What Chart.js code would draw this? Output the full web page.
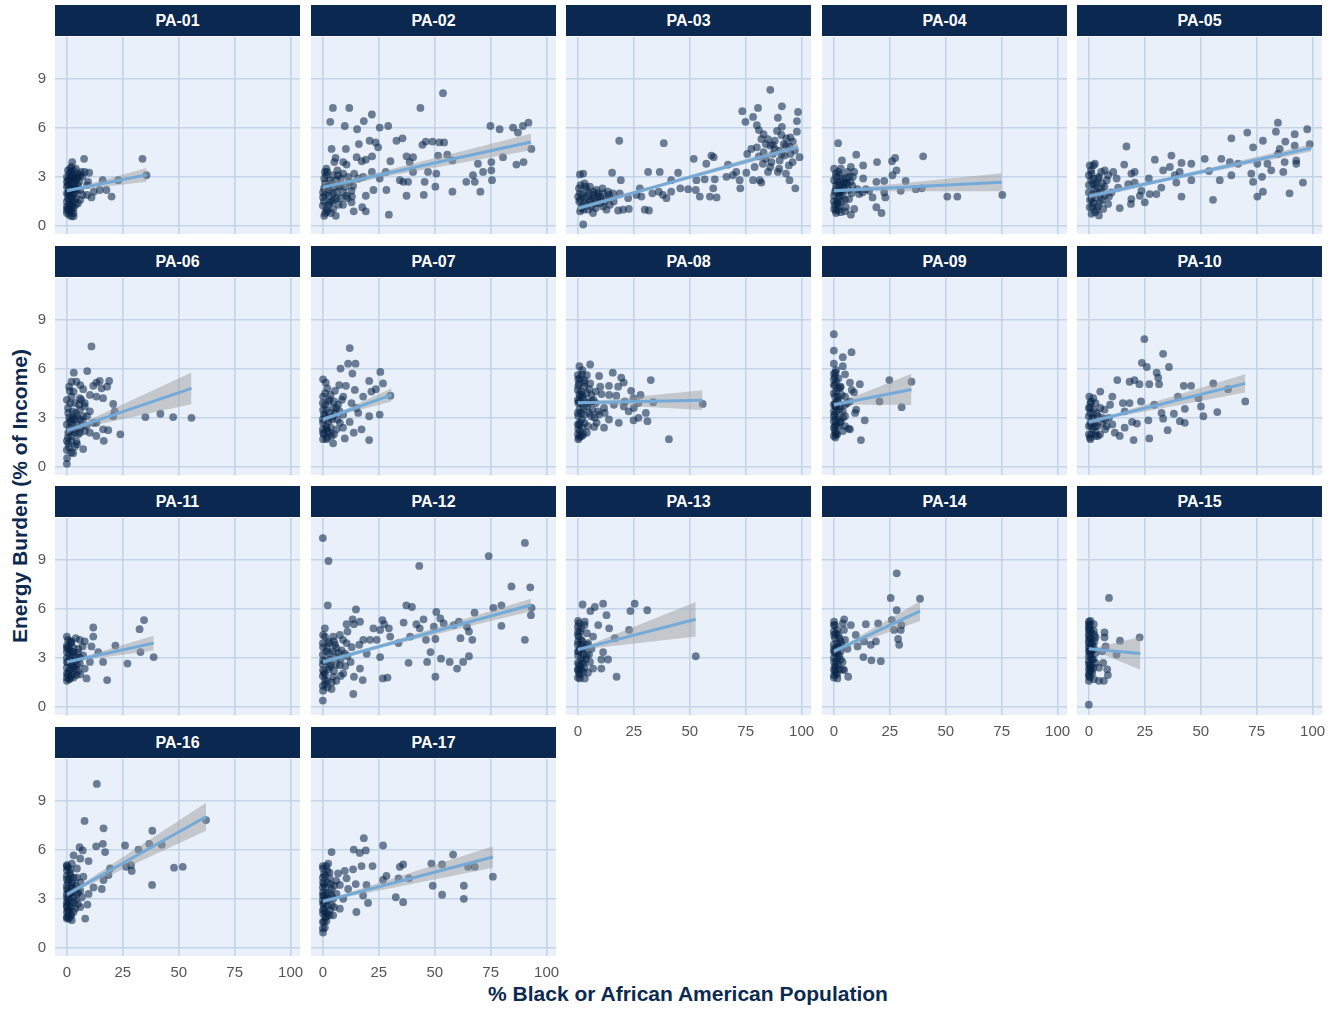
<!DOCTYPE html>
<html>
<head>
<meta charset="utf-8">
<script src="https://cdn.jsdelivr.net/npm/chart.js@4.4.0/dist/chart.umd.min.js"></script>
<style>
  body { margin: 0; background: #fff; font-family: "Liberation Sans", Arial, sans-serif; }
  #wrap { position: relative; width: 1340px; height: 1010px; overflow: hidden; }
  .strip { position: absolute; height: 31px; background: #0a2850; color: #fff; font-weight: bold;
           font-size: 16px; line-height: 31px; text-align: center; }
  canvas { position: absolute; }
  #xTitle { position: absolute; left: 388px; top: 982px; width: 600px; text-align: center;
            font-size: 21px; font-weight: bold; color: #0c2a4f; }
  #yTitle { position: absolute; left: -180px; top: 484px; width: 400px; text-align: center;
            font-size: 21px; font-weight: bold; color: #0c2a4f; transform: rotate(-90deg); }
</style>
</head>
<body>
<div id="wrap">
  <div id="xTitle">% Black or African American Population</div>
  <div id="yTitle">Energy Burden (% of Income)</div>
</div>
<script>
// ---------- data ----------
const panels = ["PA-01","PA-02","PA-03","PA-04","PA-05","PA-06","PA-07","PA-08","PA-09",
                "PA-10","PA-11","PA-12","PA-13","PA-14","PA-15","PA-16","PA-17"];
const xTicks = [0, 25, 50, 75, 100];
const yTicks = [0, 3, 6, 9];
const xRange = [-5.3, 104.2];
const yRange = [-0.48, 11.52];

const pa01 = [[0,0.8],[1,0.7],[2,0.9],[3,0.8],[0.5,1.1],[1.5,1.3],[2.5,1.2],[0,1.5],[1,1.6],[2,1.8],[3,1.5],[4,1.7],[0.5,2.0],[1.5,2.1],[2.5,2.2],[3.5,2.0],[0,2.4],[1,2.5],[2,2.6],[3,2.4],[4,2.3],[5,2.5],[0.5,2.8],[1.5,2.9],[2.5,3.0],[3.5,3.1],[4.5,2.9],[1,3.2],[2,3.3],[3,3.4],[5,3.2],[6,3.1],[7,3.0],[8,3.3],[6,2.2],[7,1.9],[0,1.0],[1,1.9],[2,3.6],[4,3.5],[3,0.6],[5,1.4],[6,1.6],[9,1.9],[9,2.5],[2.4,3.9],[7.7,4.1],[33.8,4.1],[35.6,3.1],[16,2.8],[23,2.8],[14.7,2.2],[17.7,2.2],[20,1.8],[11,1.75],[10,3.25],[9.5,2.7],[12,2.1],
  [0,1.2],[0.5,1.7],[1,2.2],[1.5,2.7],[2,3.1],[0,3.0],[0.5,3.4],[1,0.9],[1.5,1.0],[2,1.4],[2.5,1.7],[3,2.0],[3.5,2.6],[4,2.8],[4.5,2.2],[5,3.0],[0,2.0],[0.5,2.5],[2,2.3],[3,2.9],[1,2.9],[0,2.7],[1.5,3.5],[3,1.1],[4,1.3],[2,0.6],[1,1.3],[5.5,2.7],[6.5,3.3]];
const pa02 = [[4.5,7.2],[11.8,7.2],[53.7,8.1],[43.6,7.2],[21.9,6.8],[3.3,6.35],[9.8,6.1],[18.3,6.4],[15.3,5.9],[25.4,6.0],[29.2,6.1],[74.9,6.1],[79,5.9],[85,6.0],[89.4,6.1],[91.9,6.3],[87.2,5.7],[93.2,4.7],[86.5,3.75],[89.7,3.9],[80.5,4.2],[69.3,3.8],[75.3,3.9],[75.3,3.4],[71.6,3.3],[67.1,3.1],[67.9,2.7],[64.1,2.7],[70.4,2.1],[75.6,2.8],[57.9,2.1],[50.3,2.4],[50.7,3.2],[47,3.3],[45.5,2.7],[45.1,1.9],[37.4,1.85],[38.1,2.7],[40.3,3.3],[38.8,3.9],[37.4,4.25],[40.3,4.2],[44.5,4.95],[46,5.15],[49,5.15],[52,5.1],[54.2,5.1],[51.5,4.3],[55.6,4.35],[57.9,4.0],[32.9,5.2],[35.6,5.35],[30.2,3.95],[28.1,3.3],[28.4,2.2],[29.5,0.7],[34.4,2.8],[35.9,2.7],[20.9,5.2],[23.6,5.1],[24.7,4.8],[16.1,5.0],[10.3,4.7],[3.9,4.7],[5.7,4.15],[5.1,3.9],[9.1,3.9],[10.6,3.75],[15.1,4.2],[17.4,3.95],[19.2,4.05],[22,4.25],[21.9,3.3],[25.4,2.9],[22.6,2.2],[19.2,1.85],[17.6,1.15],[19.2,0.9],[13.8,0.9],[12.8,1.45],[10.6,1.85],[9.1,2.05],[6.1,2.05],[3.1,1.45],[1.6,1.05],[0.6,0.63],[5.8,0.63],[4.6,1.05],[0.1,2.05],[0.9,3.3],[1.6,3.5],[0.6,2.9],[4.6,3.1],[6.8,3.1],[9.1,3.2],[11.3,3.0],[2.4,2.35],[7.6,2.45],[13.5,2.45],[15.8,2.9],[18,3.0],[0.1,1.75],[0,1.25],[2.8,1.85],[12,2.7],[12.8,2.15],[1,2.6],[3,2.2],[5,1.6],[7,1.3],[2,0.9],[8,1.7],[4,2.6],[6,2.8],
  [0.5,1.5],[1,1.9],[2,2.4],[3,2.8],[1.5,3.1],[2.5,1.3],[4,1.5],[5,2.4],[6,1.7],[7,2.4],[8,2.9],[9,1.3],[10,2.4],[11,1.7],[3.5,0.8],[1,0.8],[2,3.3],[0.5,2.3],[4.5,2.0],[6.5,3.4],[13,1.8],[14,3.2]];
const pa03 = [[86,8.3],[73.5,7.0],[80.5,7.2],[74.9,6.35],[78.3,6.65],[91.2,7.3],[98.4,6.95],[97.9,6.4],[89.4,6.6],[80,6.15],[80.9,5.85],[91.2,6.05],[82,5.3],[85,5.3],[87.2,4.95],[91,5.55],[93.2,5.35],[94.6,4.85],[97.9,5.75],[96.1,5.15],[77.5,4.7],[75.7,4.4],[80.9,4.25],[82.7,3.8],[86.5,3.9],[90.2,4.0],[94.3,3.7],[89.4,3.3],[85,3.3],[81.3,2.8],[78.3,2.8],[82,2.65],[94.6,2.8],[97.2,2.3],[99.1,4.2],[87.2,4.4],[92.3,4.3],[75.3,3.25],[70.8,3.3],[72.3,2.8],[66.4,3.0],[69.3,3.1],[67.1,3.75],[72.6,2.3],[59.7,4.3],[60.7,4.2],[57.4,3.8],[51.8,4.1],[53,2.8],[56.7,2.85],[61.2,2.85],[60.5,2.3],[59,1.8],[62,1.75],[54.5,1.8],[52.7,2.2],[49.3,2.25],[45.8,2.3],[44.8,3.25],[41.7,2.8],[41.7,2.1],[39.6,1.7],[38,1.9],[36.6,3.3],[38.4,5.05],[36.2,2.1],[33.3,2.0],[31.4,3.3],[27.7,2.3],[28.4,1.8],[29.9,1.0],[31.8,0.95],[26.2,1.9],[22.5,1.7],[22.8,1.05],[18.5,5.2],[15.3,3.25],[19.2,2.8],[18.7,2.0],[15.7,2.0],[20.2,1.0],[18,0.95],[14.3,1.3],[11.3,2.0],[8.3,2.2],[6.8,1.9],[6.1,1.6],[3.1,1.4],[2.4,3.2],[0.9,3.15],[1.2,2.5],[3.9,2.2],[9.8,1.6],[11.3,1.2],[12.8,1.0],[4.6,1.0],[2.4,0.1],[0.6,1.5],[0.9,2.0],[5.4,2.4],[9.1,1.8],[13.5,2.1],[6.8,0.8],[0.1,1.8],[2,1.2],[4,1.8],[7,2.1],[10,1.4],[1,0.9],[3,2.6],[8,1.1],[88,4.7],[92,5.0],[84,4.1],[95,4.4],[79,3.6],[83,5.6],[90,3.5],
  [1,1.6],[2,1.9],[3,1.7],[4,1.3],[5,2.0],[6,1.2],[7,1.7],[8,1.4],[9,2.0],[10,1.8],[12,1.5],[13,1.7],[14,1.9],[0.5,2.3],[1.5,1.1],[3.5,2.4],[5.5,1.5],[2.5,1.0],[11,2.3],[16,1.5],[80,4.8],[83,4.5],[86,4.9],[88,5.2],[90,4.6],[93,4.9],[95,5.4],[97,4.6],[84,5.0],[89,5.8],[91,4.4],[96,3.9],[86,3.6],[93,3.2]];
const pa04 = [[1.9,5.05],[10,4.35],[3.6,4.0],[19.3,3.9],[26,3.95],[27.4,4.15],[39.9,4.25],[13.1,3.7],[28,3.4],[26.2,3.1],[32.1,2.75],[22.5,2.75],[19,2.7],[13.1,2.9],[9.1,3.3],[6.8,3.0],[36.6,2.25],[39.3,2.3],[29.9,2.15],[22.5,2.05],[17.3,1.75],[23,1.75],[50.7,1.8],[55.2,1.8],[75.3,1.9],[19,1.15],[21.3,0.8],[9.1,1.05],[7.6,0.7],[3.1,0.85],[0.9,0.95],[5.4,1.15],[1.6,1.45],[6.8,1.65],[11.3,1.95],[14.3,2.25],[15.8,2.15],[0.1,1.85],[0.9,2.25],[2.4,2.55],[3.9,2.9],[6.1,3.3],[0.9,3.2],[0.1,2.8],[2.4,2.05],[4.6,2.35],[8.3,2.45],[10.6,2.25],[12.8,2.05],[0.1,3.5],[3.1,3.5],[7.6,3.6],[5.4,2.65],[1.6,1.35],[0.1,1.05],[2,2.0],[4,1.9],[1,2.5],[3,2.2],[5,1.6],[6,2.6],[8,2.0],
  [0.5,1.3],[1.5,1.6],[2.5,1.8],[3.5,2.1],[4.5,2.6],[5.5,2.9],[1,3.0],[2,3.3],[3,2.7],[4,2.4],[0.5,2.1],[1.5,2.7],[2.5,1.2],[3.5,1.5],[6.5,2.2],[7.5,2.7],[8.5,3.0],[5,0.9],[1,0.8],[0,1.5],[2,1.0],[3,3.1]];
const pa05 = [[84.5,6.3],[70.8,5.7],[63.7,5.35],[77.8,5.2],[83.6,5.75],[87.8,5.15],[92,5.6],[97.6,5.9],[98.7,5.0],[92,4.9],[85.3,4.7],[73.4,4.8],[84.5,4.4],[87.5,3.9],[92.7,4.0],[92.7,3.8],[86.9,3.3],[81.5,3.4],[95.7,2.65],[89.7,2.0],[77.8,2.1],[75.3,1.8],[77.4,3.0],[73.4,2.7],[72.6,3.2],[63.7,3.1],[66.7,3.8],[75.3,3.8],[79.8,3.8],[59.2,4.1],[63,3.9],[51.8,4.1],[53.7,3.35],[55.5,1.6],[58.5,2.8],[45.8,3.8],[45.8,2.8],[41.4,3.85],[41.4,1.8],[40.6,3.3],[36.9,4.3],[36.2,3.6],[38.4,3.1],[39.1,2.65],[33.2,3.4],[32.4,2.35],[30.2,1.95],[27.2,1.95],[29.5,4.05],[26.8,2.9],[23.5,2.15],[22.8,1.85],[25,1.45],[19,1.65],[18.8,1.35],[16.8,4.85],[15.8,3.75],[13.8,1.1],[19,3.2],[20.5,3.3],[10.9,3.3],[8.6,3.1],[12.4,2.9],[7.1,3.4],[2.7,3.8],[0.4,3.7],[1.2,3.2],[4.2,2.9],[1.9,2.55],[5.7,2.25],[7.1,1.85],[8.6,1.35],[6.4,1.05],[2.7,0.85],[0.4,1.15],[4.9,1.45],[1.2,1.65],[0,2.05],[3.4,2.05],[10.1,2.05],[13.1,2.35],[17.6,2.55],[20.5,2.65],[1.2,0.75],[4.5,0.65],[2,1.4],[3,2.5],[5,1.9],[1,2.8],[6,2.6],
  [0.5,1.6],[1.5,1.9],[2.5,2.2],[3.5,2.6],[4.5,3.0],[5.5,3.3],[1,3.4],[2,2.9],[3,1.7],[4,1.2],[6,1.6],[7,2.4],[8,2.8],[9,1.8],[0,2.5],[0,3.1],[1.5,1.2],[3.5,1.0],[5,2.1],[2,3.7]];
const pa06 = [[11,7.35],[9.1,5.85],[3.1,5.75],[2.1,5.2],[4.3,5.2],[13.2,5.15],[14.7,5.25],[18.9,5.25],[11.8,4.95],[18,4.9],[15.5,4.8],[7.3,4.75],[1.3,4.65],[10.3,4.4],[13.2,4.3],[16.2,4.2],[2.1,4.3],[5.8,4.2],[3.6,3.9],[8,3.9],[20.7,3.85],[21.4,3.4],[20.7,3.1],[10.3,3.4],[5.8,3.5],[0.6,3.3],[2.8,3.0],[7.3,3.1],[11.8,2.7],[16.2,2.3],[18.5,2.25],[23.9,2.0],[16.5,1.6],[13.2,1.9],[10.3,2.1],[7.3,1.1],[3.6,1.25],[0.6,1.45],[2.1,1.9],[0,1.05],[0.1,0.55],[0,0.2],[4.3,1.55],[5.8,2.1],[1.3,2.4],[8.8,2.5],[35.1,3.05],[41.8,3.25],[47.5,3.05],[55.7,3.0],[1.3,2.8],[4.3,2.6],[0.6,2.1],[2.8,0.85],[13.2,2.7],[1,3.0],[3,2.3],[2,1.6],[4,3.3],[6,2.9],[0,2.6],[5,2.0],[8,3.7],[3,4.6],[6,5.0],
  [0.5,1.8],[1.5,2.2],[2.5,2.6],[3.5,2.9],[4.5,3.1],[5.5,3.8],[6.5,4.1],[0.5,3.6],[1.5,3.9],[2.5,3.4],[3.5,2.1],[4.5,1.4],[0,1.6],[1,1.2],[2,0.9],[6,2.4],[7,2.8],[8,2.2],[9,3.1],[1,4.9],[0,4.1],[2,2.9]];
const pa07 = [[12,7.25],[7.9,6.0],[11.3,6.3],[14.6,6.3],[13.2,5.7],[25.7,5.8],[0.1,5.35],[1.3,5.15],[7.3,5.0],[10.3,4.95],[20.7,5.25],[26.9,5.1],[14.3,4.7],[9.1,4.3],[18,4.3],[21.7,4.6],[23.7,4.75],[30.2,4.35],[6.8,3.8],[12.8,3.9],[15,3.6],[4.6,3.6],[9.1,3.2],[15.8,3.3],[20.7,3.1],[25.4,3.2],[12,2.75],[7.6,2.7],[17.3,2.3],[13.8,2.1],[9.8,1.75],[20.7,1.65],[0.1,2.1],[1.6,1.7],[3.9,1.9],[6.1,2.3],[0.1,2.7],[2.4,3.0],[0.1,3.5],[3.1,4.1],[0.1,4.3],[5.4,4.65],[1.6,2.35],[4.6,1.45],[0.1,1.7],[2,2.2],[4,2.9],[1,3.8],[3,3.3],[5,2.0],[2,4.8],[6,3.6],[0,2.3],[1,3.1],
  [0.5,2.0],[1.5,2.5],[2.5,2.8],[3.5,2.4],[4.5,3.1],[5.5,3.3],[0.5,3.2],[1.5,3.5],[2.5,4.0],[3.5,4.4],[0,3.9],[1,4.5],[6.5,2.9],[7.5,3.4],[8.5,4.1],[0,2.9],[2,1.8],[3,2.1],[5,4.0],[9,2.4]];
const pa08 = [[5.5,6.25],[0.7,6.15],[15.6,5.75],[32.6,5.3],[9.5,5.55],[19.4,5.45],[1.8,5.65],[20.5,5.15],[13.9,4.95],[23.8,4.65],[5.1,4.75],[10.6,4.45],[17.2,4.35],[24.9,4.2],[0.7,4.45],[33.7,3.95],[27.1,3.9],[20.5,3.7],[30.4,3.3],[27.1,3.0],[31.1,2.8],[24.9,2.85],[18.3,2.7],[13.9,2.9],[9.5,3.2],[5.1,3.3],[1.8,2.9],[0.7,3.5],[0.2,2.3],[4,2.1],[0.2,1.7],[1.8,1.9],[40.7,1.7],[55.8,3.85],[7.3,2.45],[11.7,3.6],[16.1,3.8],[22.7,3.4],[0.2,3.9],[0.2,4.95],[2.9,5.15],[6.2,4.0],[8.4,2.7],[11.7,2.4],[4,3.7],[0.2,5.35],[0.2,3.1],[2.4,4.2],[1,1.9],[0.5,2.6],[1.5,3.3],[0.5,4.0],[1.5,4.6],[0.5,5.1],[2,5.9],[1,2.2],[3,2.7],[2.5,3.6],[1,4.3],[3,4.9],[4,5.6],[6,3.1],[8,3.9],[10,4.9],[12,3.3],[14,4.4],[18,4.9],[21,4.0],[25,3.6],[28,4.4],
  [0,2.0],[0,2.6],[0,3.3],[0,4.1],[0,4.7],[0,5.6],[0.5,1.8],[1,2.7],[1.5,3.9],[2,4.4],[2.5,2.0],[3,3.2],[3.5,4.0],[4,4.5],[4.5,2.5],[5,3.9],[5.5,5.1],[6,4.4],[6.5,3.5],[7,4.1],[7.5,3.0],[8,4.6],[9,3.4],[1,5.4],[2,2.4],[3,5.3]];
const pa09 = [[0,8.1],[0,7.1],[7.9,7.0],[4,6.7],[0,6.3],[4,6.15],[0.7,5.75],[5,5.65],[0,5.35],[7.2,5.15],[11.6,5.05],[2.9,4.85],[9,4.55],[34.7,5.2],[24.8,5.3],[20.4,4.0],[7.2,4.0],[0.7,3.7],[4,3.4],[9.5,3.3],[30.3,3.65],[0.7,2.9],[5,2.5],[13.8,2.85],[7.2,2.3],[0.7,2.1],[6.6,2.35],[12.1,1.65],[0.7,1.8],[2.9,2.7],[0,3.1],[1.8,4.3],[5,4.3],[1,2.0],[0.5,2.5],[2,3.0],[1,3.4],[0.5,3.9],[2,4.1],[1,4.6],[0.5,5.0],[2,5.4],[1,5.9],[3,3.7],[4,2.2],[3,4.9],[5,3.1],[6,3.9],[8,4.7],[10,3.5],
  [0,1.9],[0,2.4],[0,2.8],[0,3.4],[0,3.8],[0,4.5],[0,5.0],[0,5.7],[0.5,2.2],[0.5,3.2],[0.5,4.3],[0.5,5.5],[1,2.6],[1,3.7],[1,5.2],[1.5,2.0],[1.5,4.0],[2,2.5],[2,4.8],[2.5,3.5],[3,2.8],[3.5,4.4],[4,3.0],[5,3.8]];
const pa10 = [[24.8,7.8],[33.2,6.9],[23.7,6.35],[25.9,6.1],[35.8,6.1],[30.3,5.75],[31,5.45],[12.7,5.3],[18.2,5.2],[20.4,5.3],[22.6,5.05],[27,5.05],[31.4,5.05],[42.4,4.95],[45.7,4.95],[55.6,5.1],[62.2,4.75],[69.9,4.0],[49,4.2],[39.8,4.3],[29.2,3.8],[23.3,4.0],[18.2,3.9],[15.2,3.9],[9.5,3.8],[5.1,4.6],[10.5,4.3],[42.9,3.55],[50.1,3.7],[57.4,3.35],[51.2,3.1],[38,3.25],[32.5,3.3],[26.6,2.85],[33.2,2.95],[40.7,2.8],[42.9,2.7],[19.3,2.75],[21.5,2.65],[35.2,2.25],[27,1.75],[20,1.65],[13.8,1.9],[11.6,2.1],[7.3,2.3],[2.9,2.1],[0.7,1.7],[0.7,2.7],[0.7,3.3],[0.7,3.9],[0.2,4.3],[4,3.1],[7.3,2.9],[10.5,2.6],[16,2.4],[5.1,3.6],[16,3.4],[1.8,2.3],[1,2.0],[2,3.0],[3,2.5],[0.5,3.6],[4,1.9],[6,2.7],
  [0,2.0],[0,2.5],[0,3.1],[0,3.6],[0.5,1.8],[1,2.5],[1.5,3.0],[2,3.5],[2.5,2.7],[3,1.9],[3.5,3.3],[4,2.5],[5,2.0],[6,3.0],[7,3.5],[8,2.5],[9,3.0],[1,4.0],[2,4.2],[3,3.9]];
const pa11 = [[34.5,5.3],[32.5,4.75],[11.8,4.85],[11.8,4.3],[21.7,3.75],[8,4.0],[11,3.7],[14,3.35],[16.2,2.75],[27.1,2.65],[32.9,3.35],[38.8,3.05],[18,1.65],[0,4.3],[2.1,4.0],[5.8,4.1],[2.8,3.35],[7.3,3.15],[10.3,2.75],[8,2.35],[4.3,1.95],[1.3,1.75],[0,2.05],[0,2.75],[0,3.35],[0.6,3.65],[5.8,2.65],[2.8,2.45],[8.8,1.75],[5.1,3.55],[0,3.75],[1.3,2.95],[0,1.6],[1,2.2],[2,2.6],[3,3.1],[1,3.5],[2,3.9],[4,2.3],[5,3.3],[6,2.0],[3,1.8],[7,3.7],[4,4.2],[0.5,2.0],
  [0,1.8],[0,2.4],[0,3.0],[0,3.6],[0.5,2.7],[1,3.2],[1.5,2.3],[2,3.4],[2.5,2.0],[3,3.6],[3.5,2.8],[4,3.1],[4.5,2.6],[5,2.2],[1,1.7],[2,1.9],[0.5,4.1],[1.5,4.0],[6,3.0],[3,2.4]];
const pa12 = [[0,10.3],[2.5,8.9],[90.3,10.0],[74.1,9.2],[43.1,8.6],[84.3,7.35],[92.7,7.3],[2.2,6.2],[14.8,5.95],[37.3,6.2],[39.8,6.1],[50.7,5.8],[76.2,6.05],[79.8,6.2],[93.3,6.05],[93,5.6],[67.8,5.75],[13.3,5.35],[10.6,5.05],[16.6,5.2],[13.9,5.05],[26.6,5.3],[27.4,5.05],[22.6,4.8],[25.6,4.7],[29.5,4.8],[36.1,5.15],[41.8,5.05],[45,5.35],[43.3,4.8],[49.6,4.9],[52.5,5.4],[54,5.1],[58.5,5.0],[60.8,5.2],[64.4,4.9],[65.3,4.6],[79.8,4.95],[90.3,4.1],[61.5,4.2],[66.8,4.1],[46.1,4.1],[50.3,4.15],[39,4.3],[33.8,3.9],[30.1,4.3],[24.1,4.1],[25.6,3.05],[21.1,4.1],[18.1,4.1],[16.3,3.8],[19.6,3.25],[16.6,2.35],[13.9,1.85],[17.8,1.65],[26.8,1.75],[28.9,1.8],[38.3,2.7],[46.6,2.75],[48.1,3.35],[50.3,1.85],[52.8,2.95],[56.7,2.75],[60,2.35],[62.7,2.75],[65.3,3.1],[13.6,0.8],[0,0.4],[0.1,1.0],[3.9,1.1],[0.9,1.65],[4.6,1.85],[9.1,2.05],[7.6,2.55],[3.1,2.45],[0.1,2.25],[0.1,2.85],[3.1,3.25],[6.1,3.05],[9.9,3.25],[12.4,2.75],[0.1,3.65],[2.4,4.0],[4.6,4.3],[7.6,4.4],[10.6,3.9],[0.1,4.4],[0.9,4.8],[5.4,3.8],[12.9,3.65],[8.4,3.45],[1,2.0],[2,3.6],[3,2.9],[5,2.2],[6,3.6],[1,1.4],[8,2.9],[11,3.1],
  [0,1.3],[0,1.9],[0,2.6],[0,3.2],[0,3.9],[0.5,2.1],[1,2.8],[1.5,3.4],[2,1.6],[2.5,2.3],[3,3.9],[3.5,2.6],[4,1.5],[4.5,3.4],[5,4.0],[6,2.6],[7,3.3],[8,1.9],[9,4.1],[10,2.5],[11,4.6],[1,4.3],[2,1.2],[6,1.6]];
const pa13 = [[2.1,6.25],[7.6,6.1],[11.3,6.3],[25.4,6.3],[31,5.9],[23.5,5.85],[5.6,5.85],[12.8,5.6],[0.1,5.25],[3.1,5.2],[9.1,5.0],[14,4.8],[22.9,4.7],[16.5,4.2],[6.8,4.3],[11.3,3.35],[10.5,2.9],[13.5,2.9],[10.5,2.35],[6.8,2.35],[17.3,1.85],[52.7,3.1],[0.9,1.75],[3.1,1.75],[0.1,2.25],[2.4,2.65],[0.1,3.15],[3.9,3.15],[0.1,4.0],[4.6,3.9],[0.1,4.6],[6.1,3.55],[2.4,2.15],[5.4,2.75],[1,2.0],[0.5,2.6],[1.5,3.0],[0.5,3.4],[1.5,3.8],[0.5,4.3],[1.5,4.8],[0.5,5.1],[3,2.4],[2,3.5],[4,4.5],[5,3.2],[3,5.0],
  [0,1.8],[0,2.3],[0,2.7],[0,3.4],[0,3.8],[0,4.4],[0,4.9],[0.5,2.1],[1,2.5],[1,3.6],[1,4.6],[1.5,2.3],[1.5,4.1],[2,2.8],[2,4.0],[2.5,3.2],[3,3.6],[3.5,2.9],[4,3.8],[4.5,2.1]];
const pa14 = [[28.1,8.15],[25.4,6.65],[38.5,6.6],[28.1,5.9],[25.9,5.3],[19.8,5.1],[14.3,5.05],[30.2,5.0],[26.9,4.7],[29.9,4.7],[28.7,4.15],[29.2,3.8],[18.8,4.0],[16.5,3.8],[10.6,3.7],[13.5,4.0],[9.8,4.4],[7.6,5.0],[4.6,5.35],[13.2,3.05],[16.8,2.85],[21,2.8],[6.4,1.85],[4.6,2.25],[0.1,1.95],[0.1,2.75],[0.1,3.55],[0.1,4.4],[0.1,5.2],[2.4,3.15],[3.1,4.0],[1.6,1.75],[0.9,2.45],[3.9,2.75],[6.1,3.55],[1,2.1],[0.5,2.5],[1.5,3.0],[0.5,3.3],[1.5,3.9],[0.5,4.2],[1.5,4.7],[0.5,5.0],[2.5,2.3],[3,3.4],[2,4.4],[4,5.1],[5,4.1],
  [0,1.8],[0,2.3],[0,3.0],[0,3.4],[0,3.8],[0,4.6],[0,5.0],[0.5,2.2],[1,2.8],[1,3.6],[1,4.5],[1.5,2.0],[1.5,3.3],[2,2.6],[2,3.7],[2.5,4.2],[3,2.9],[3.5,3.8],[4,2.3],[4.5,4.7]];
const pa15 = [[9,6.65],[22.7,4.25],[13.9,4.05],[7,4.55],[7,4.25],[0.7,5.25],[2.2,5.05],[0,4.85],[0,4.45],[0,4.05],[0,3.65],[0.7,3.2],[0,2.8],[0.7,2.4],[0,2.0],[2.2,1.7],[4.5,1.6],[6.7,1.6],[8.5,1.95],[8.2,2.3],[6.4,2.7],[6,3.4],[7.5,3.7],[12.4,3.2],[0,0.15],[1.5,2.1],[3,2.7],[2.2,3.65],[3,4.25],[0,5.05],[4.5,2.4],[0,1.6],[2.2,4.65],[0.5,1.8],[1,2.2],[0.5,2.6],[1,3.0],[0.5,3.4],[1,3.8],[0.5,4.2],[1,4.6],[0.5,5.0],[2,2.9],[3,3.3],[2.5,4.0],
  [0,1.9],[0,2.3],[0,2.6],[0,3.1],[0,3.4],[0,3.9],[0,4.3],[0,4.7],[0,5.2],[0.5,2.2],[0.5,3.6],[0.5,4.7],[1,2.5],[1,3.4],[1,4.2],[1.5,2.9],[1.5,3.9],[2,2.4],[2,3.5],[2.5,4.4]];
const pa16 = [[13.4,10.0],[7.9,7.75],[16.4,7.3],[38.2,7.15],[62.2,7.8],[13.1,6.2],[16.1,6.35],[26,6.25],[36.8,6.35],[42.4,6.3],[32,6.0],[5.7,6.15],[7.1,5.95],[17.1,5.85],[9.7,5.3],[3,5.65],[6,5.45],[0,5.05],[2.2,5.15],[4.5,4.85],[7.4,4.35],[19.3,4.85],[26.5,4.95],[28.7,5.05],[29,4.7],[47.9,4.9],[51.8,4.95],[18.6,4.45],[16.4,4.15],[15.6,3.6],[38.1,3.85],[11.9,3.7],[9.7,3.3],[9.2,2.65],[8.2,1.8],[2.2,1.7],[0,1.9],[0.7,2.2],[0,2.5],[3,2.8],[0,3.1],[4.5,3.3],[0,3.6],[2.2,3.9],[0,4.2],[6,4.0],[6.7,3.1],[1.5,4.55],[0,4.75],[3.7,2.4],[6,2.5],[1.8,3.4],[0,2.8],[1,1.8],[0.5,2.3],[1.5,2.7],[0.5,3.0],[1,3.4],[2,3.7],[0.5,4.0],[1.5,4.4],[0.5,4.9],[3,3.1],[4,3.8],[5,2.7],[3,4.3],[2,2.0],
  [0,1.8],[0,2.2],[0,2.6],[0,3.3],[0,3.8],[0,4.4],[0,5.0],[0.5,1.9],[0.5,2.7],[0.5,3.5],[1,2.3],[1,3.0],[1,4.2],[1.5,2.0],[1.5,3.3],[1.5,4.8],[2,2.5],[2,3.4],[2.5,4.0],[3,2.2],[3.5,3.6],[4,2.9],[4.5,4.3],[5,3.4],[6,3.5]];
const pa17 = [[18.3,6.7],[26.9,6.25],[13.8,6.0],[16.5,5.8],[19.2,5.95],[3.9,5.85],[58.2,5.7],[48.5,5.15],[53.3,5.1],[35.9,5.1],[34.4,4.95],[64.9,4.95],[67.9,4.95],[22.2,5.0],[17.3,5.0],[13.5,4.8],[9.8,4.7],[6.8,4.55],[28.4,4.4],[33.8,4.25],[38.5,4.25],[26.9,4.15],[10.6,4.25],[19.5,3.85],[14.7,3.9],[49.1,3.8],[63,3.8],[76,4.35],[7.6,3.85],[11.3,3.6],[18,3.2],[20.2,2.75],[15,2.2],[32.6,3.1],[35.9,2.8],[53.3,3.25],[63,3.0],[0.1,0.95],[0.9,1.25],[1.6,1.65],[0.1,2.1],[3.1,2.3],[0.1,2.7],[4.6,3.0],[0.1,3.4],[6.1,3.3],[0.1,4.0],[3.1,4.25],[0.1,4.85],[2.4,5.15],[4.6,2.0],[7.6,2.4],[3.9,3.6],[9.1,3.0],[1,1.9],[0.5,2.4],[1.5,2.9],[0.5,3.2],[1,3.7],[2,4.0],[0.5,4.5],[1.5,5.0],[3,3.4],[4,2.6],[2,2.1],[5,3.8],[3,4.6],
  [0,1.2],[0,1.6],[0,2.3],[0,2.9],[0,3.2],[0,3.7],[0,4.3],[0,5.0],[0.5,1.6],[0.5,2.7],[0.5,3.9],[1,2.2],[1,3.0],[1,4.4],[1.5,1.9],[1.5,3.3],[2,2.6],[2,4.7],[2.5,3.0],[3,2.0],[3.5,3.9],[4,3.2],[5,2.5],[6,4.1]];
const points = [pa01, pa02, pa03, pa04, pa05, pa06, pa07, pa08, pa09,
                pa10, pa11, pa12, pa13, pa14, pa15, pa16, pa17];

// fitted line ends: x0, y0, x1, y1
const fitLines = [[0,2.16,35.6,3.12],[0,2.37,93,5.12],[0,1.08,98.4,4.83],[0,2.16,75,2.67],[0,1.82,99.4,4.76],
                  [0,2.22,55.7,4.8],[0,2.9,30.7,4.4],[0,3.92,55.7,4.08],[0,3.8,34.7,4.73],[0,2.75,69.9,5.1],
                  [0,2.75,38.8,3.9],[0,2.75,93,6.22],[0,3.5,52.7,5.35],[0,3.4,38.5,5.85],[0,3.55,23,3.27],
                  [0,3.27,62.2,8.0],[0,2.85,76,5.55]];
// band half-widths: at start, x of narrowest point, width there, at end
const bands = [[0.13,4,0.08,0.42],[0.28,25,0.17,0.5],[0.15,40,0.1,0.18],[0.12,6,0.08,0.55],[0.17,35,0.1,0.22],
               [0.2,6,0.13,0.97],[0.16,8,0.1,0.4],[0.12,7,0.09,0.6],[0.15,4,0.1,0.95],[0.17,12,0.1,0.55],
               [0.12,5,0.08,0.45],[0.15,25,0.1,0.38],[0.15,4,0.1,1.05],[0.15,5,0.1,0.6],[0.12,2,0.08,1.0],
               [0.17,6,0.12,0.85],[0.14,8,0.09,0.65]];

// ---------- panels ----------
const panelBg = {
  id: "panelBg",
  beforeDraw(chart) {
    const a = chart.chartArea, c = chart.ctx;
    c.save();
    c.fillStyle = "#e9f0f9";
    c.fillRect(a.left, a.top, a.right - a.left, a.bottom - a.top);
    c.restore();
  },
};

const wrap = document.getElementById("wrap");
const tickFont = { size: 15, family: "Liberation Sans" };

panels.forEach((name, i) => {
  const col = i % 5, row = Math.floor(i / 5);
  const left = Math.round(55 + col * 255.5), top = Math.round(5 + row * 240.7);
  const isLeft = col === 0, isBottom = i + 5 >= panels.length;

  const strip = document.createElement("div");
  strip.className = "strip";
  strip.style.left = left + "px";
  strip.style.top = top + "px";
  strip.style.width = "245px";
  strip.textContent = name;
  wrap.appendChild(strip);

  // canvas: 50px for y labels, 20px above, 20px right, 30px below for x labels
  const canvas = document.createElement("canvas");
  canvas.width = 315;
  canvas.height = 247;
  canvas.style.left = (left - 50) + "px";
  canvas.style.top = (top + 32 - 20) + "px";
  wrap.appendChild(canvas);

  const [x0, y0, x1, y1] = fitLines[i];
  const [w0, xm, wm, w1] = bands[i];
  const ym = y0 + ((y1 - y0) * (xm - x0)) / (x1 - x0);
  const upper = [[x0, y0 + w0], [xm, ym + wm], [x1, y1 + w1]];
  const lower = [[x0, y0 - w0], [xm, ym - wm], [x1, y1 - w1]];

  new Chart(canvas, {
    type: "scatter",
    data: {
      datasets: [
        { type: "line", data: [[x0, y0], [x1, y1]], borderColor: "#74aad8", borderWidth: 3, pointRadius: 0, order: 0 },
        { type: "line", data: upper, borderWidth: 0, pointRadius: 0, fill: "+1", backgroundColor: "rgba(150,150,150,0.45)", order: 1 },
        { type: "line", data: lower, borderWidth: 0, pointRadius: 0, fill: false, order: 1 },
        { data: points[i], pointRadius: 3.9, backgroundColor: "rgba(8,35,72,0.56)", borderWidth: 0, order: 2 },
      ],
    },
    options: {
      responsive: false,
      animation: false,
      events: [],
      layout: { padding: { left: 0, right: 20, top: 20, bottom: 0 } },
      plugins: { legend: { display: false }, tooltip: { enabled: false } },
      scales: {
        x: {
          type: "linear", min: xRange[0], max: xRange[1],
          afterBuildTicks: (s) => { s.ticks = xTicks.map((v) => ({ value: v })); },
          afterFit: (s) => { s.height = 30; },
          grid: { color: "#c2d5ea", lineWidth: 1.6, drawTicks: false },
          border: { display: false },
          ticks: { display: isBottom, padding: 8, color: "#555", font: tickFont, maxRotation: 0, autoSkip: false },
        },
        y: {
          type: "linear", min: yRange[0], max: yRange[1],
          afterBuildTicks: (s) => { s.ticks = yTicks.map((v) => ({ value: v })); },
          afterFit: (s) => { s.width = 50; },
          grid: { color: "#c2d5ea", lineWidth: 1.6, drawTicks: false },
          border: { display: false },
          ticks: { display: isLeft, padding: 9, color: "#555", font: tickFont, autoSkip: false },
        },
      },
    },
    plugins: [panelBg],
  });
});
</script>
</body>
</html>
